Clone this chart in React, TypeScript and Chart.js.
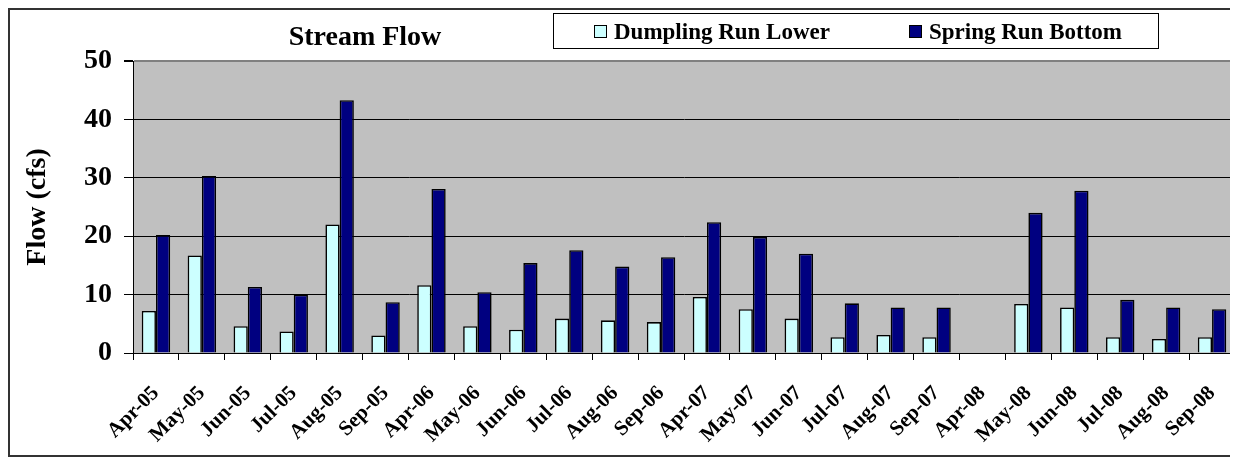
import React, { useEffect, useRef } from "react";
import { Chart, registerables } from "chart.js";

Chart.register(...registerables);

const chartTitle = "Stream Flow";
const yAxisTitle = "Flow (cfs)";
const categories = [
  "Apr-05", "May-05", "Jun-05", "Jul-05", "Aug-05", "Sep-05",
  "Apr-06", "May-06", "Jun-06", "Jul-06", "Aug-06", "Sep-06",
  "Apr-07", "May-07", "Jun-07", "Jul-07", "Aug-07", "Sep-07",
  "Apr-08", "May-08", "Jun-08", "Jul-08", "Aug-08", "Sep-08",
];
const seriesNames = ["Dumpling Run Lower", "Spring Run Bottom"];
const dumplingRunLower = [
  7.2, 16.7, 4.6, 3.7, 22.0, 3.0,
  11.6, 4.6, 4.0, 5.9, 5.6, 5.3,
  9.6, 7.5, 5.9, 2.7, 3.1, 2.7,
  null, 8.4, 7.8, 2.7, 2.4, 2.7,
];
const springRunBottom = [
  20.2, 30.3, 11.3, 10.0, 43.3, 8.7,
  28.1, 10.4, 15.4, 17.6, 14.8, 16.4,
  22.4, 19.9, 17.0, 8.5, 7.8, 7.8,
  null, 24.0, 27.8, 9.1, 7.8, 7.5,
];
const yTickValues = [0, 10, 20, 30, 40, 50];
const seriesColors = ["#CCFFFF", "#000080"];

const FONT = '"Liberation Serif", "Times New Roman", serif';

const headerPlugin = {
  id: "header",
  beforeDraw(chart: any) {
    const { ctx, chartArea } = chart;
    ctx.save();
    ctx.fillStyle = "#C0C0C0";
    ctx.fillRect(chartArea.left, chartArea.top, chartArea.right - chartArea.left, chartArea.bottom - chartArea.top);
    ctx.strokeStyle = "#808080";
    ctx.lineWidth = 2;
    ctx.beginPath();
    ctx.moveTo(chartArea.right - 1, chartArea.top);
    ctx.lineTo(chartArea.right - 1, chartArea.bottom);
    ctx.stroke();
    ctx.restore();
  },
  afterDraw(chart: any) {
    const ctx = chart.ctx;
    ctx.save();
    ctx.fillStyle = "#000";
    ctx.font = `bold 28px ${FONT}`;
    ctx.textAlign = "center";
    ctx.textBaseline = "alphabetic";
    ctx.fillText(chartTitle, 355, 35);

    // legend box
    ctx.fillStyle = "#fff";
    ctx.fillRect(543.5, 3.5, 605, 35);
    ctx.strokeStyle = "#000";
    ctx.lineWidth = 1;
    ctx.strokeRect(543.5, 3.5, 605, 35);

    const markerX = [584, 899];
    const textX = [604, 919];
    ctx.font = `bold 23px ${FONT}`;
    ctx.textAlign = "left";
    chart.data.datasets.forEach((ds: any, i: number) => {
      ctx.fillStyle = ds.backgroundColor;
      ctx.fillRect(markerX[i] + 0.5, 15.5, 12, 12);
      ctx.strokeStyle = "#000";
      ctx.strokeRect(markerX[i] + 0.5, 15.5, 12, 12);
      ctx.fillStyle = "#000";
      ctx.fillText(ds.label, textX[i], 29);
    });
    ctx.restore();
  },
};

export default function App() {
  const canvasRef = useRef<HTMLCanvasElement | null>(null);

  useEffect(() => {
    const canvas = canvasRef.current;
    if (!canvas) return;
    const chart = new Chart(canvas, {
      type: "bar",
      data: {
        labels: categories,
        datasets: [
          {
            label: seriesNames[0],
            data: dumplingRunLower,
            backgroundColor: seriesColors[0],
            borderColor: "#000",
            borderWidth: 1.6,
          },
          {
            label: seriesNames[1],
            data: springRunBottom,
            backgroundColor: seriesColors[1],
            borderColor: "#000",
            borderWidth: 1.6,
          },
        ],
      },
      options: {
        responsive: false,
        animation: false,
        events: [],
        layout: { padding: { top: 51, left: 0, right: 0, bottom: 0 } },
        datasets: {
          bar: { categoryPercentage: 0.62, barPercentage: 1.0 },
        },
        plugins: {
          legend: { display: false },
          title: { display: false },
          tooltip: { enabled: false },
        },
        scales: {
          x: {
            afterFit: (scale: any) => {
              scale.height = 102;
              scale.paddingLeft = 0;
              scale.paddingRight = 0;
            },
            grid: {
              display: true,
              offset: true,
              drawOnChartArea: false,
              drawTicks: true,
              tickLength: 7,
              color: "#000",
              lineWidth: 1,
            },
            border: { display: true, color: "#000", width: 1 },
            ticks: {
              autoSkip: false,
              minRotation: 45,
              maxRotation: 45,
              padding: 21,
              color: "#000",
              font: { family: FONT, size: 21, weight: "bold" },
            },
          },
          y: {
            min: 0,
            max: 50,
            afterFit: (scale: any) => {
              scale.width = 123;
              scale.paddingTop = 0;
              scale.paddingBottom = 0;
            },
            afterBuildTicks: (scale: any) => {
              scale.ticks = yTickValues.map((v) => ({ value: v }));
            },
            grid: {
              color: (c: any) => (c.tick && c.tick.value === 50 ? "#808080" : "#000"),
              lineWidth: (c: any) => (c.tick && c.tick.value === 50 ? 2 : 1),
              tickColor: "#000",
              drawTicks: true,
              tickLength: 9,
            },
            border: { display: true, color: "#000", width: 1 },
            ticks: {
              padding: 12,
              color: "#000",
              font: { family: FONT, size: 28, weight: "bold" },
            },
            title: {
              display: true,
              text: yAxisTitle,
              color: "#000",
              padding: { top: 11, bottom: 0 },
              font: { family: FONT, size: 28, weight: "bold" },
            },
          },
        },
      },
      plugins: [headerPlugin],
    });
    return () => chart.destroy();
  }, []);

  return (
    <div
      style={{
        width: 1229,
        height: 449,
        boxSizing: "border-box",
        border: "2px solid #333",
        background: "#fff",
      }}
    >
      <canvas ref={canvasRef} width={1225} height={445} style={{ display: "block" }} />
    </div>
  );
}
